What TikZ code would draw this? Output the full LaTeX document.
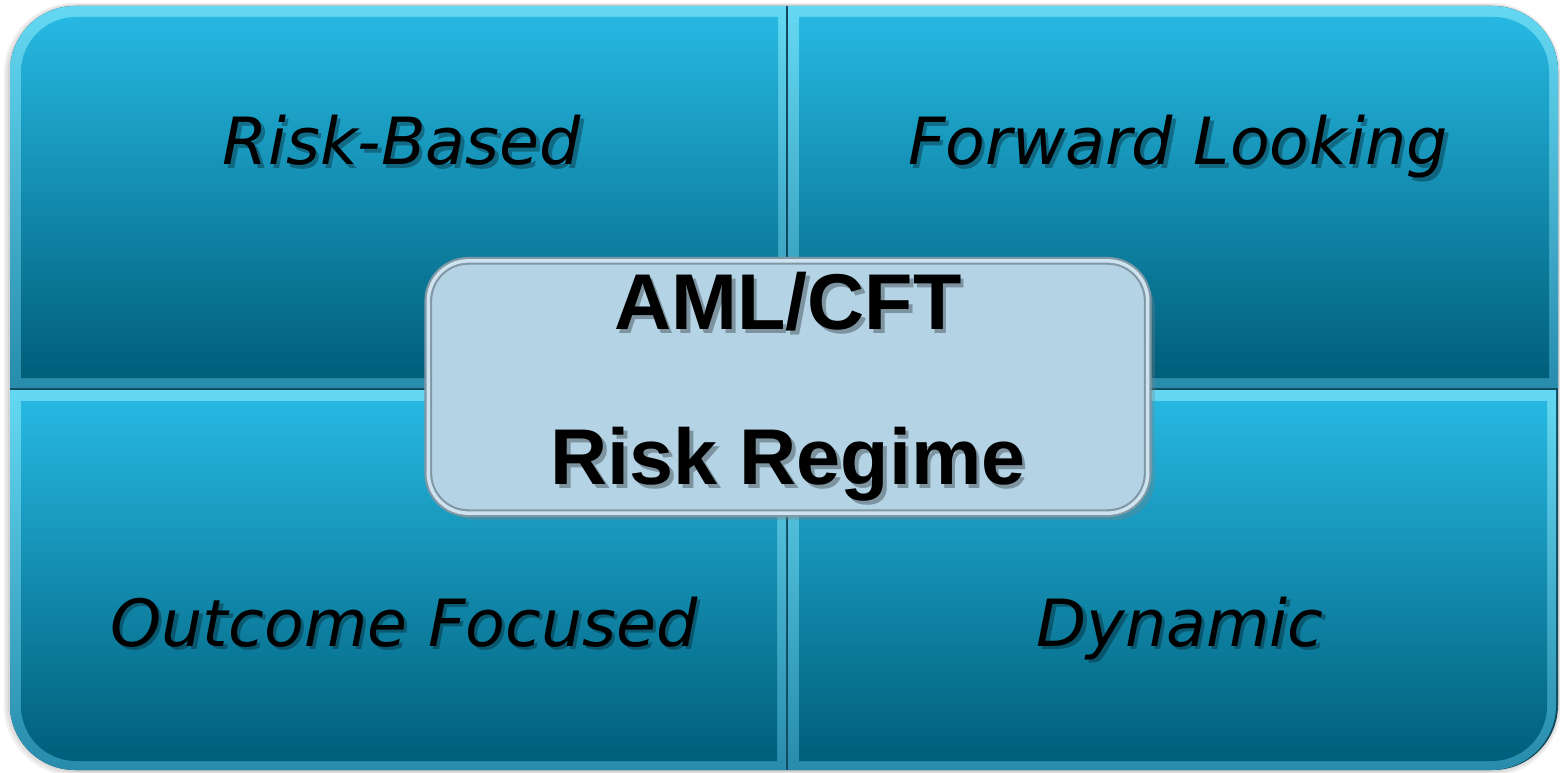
\documentclass[tikz,border=0pt]{standalone}
\usepackage{fontspec}
\setmainfont{DejaVu Sans}
\newfontfamily\quadfont{DejaVu Sans}
\newfontfamily\regimefont{Liberation Sans}
\usetikzlibrary{shadows}

\definecolor{quadtop}{RGB}{38,184,226}
\definecolor{quadbot}{RGB}{0,94,122}
\definecolor{rimtop}{RGB}{100,216,242}
\definecolor{rimbot}{RGB}{40,140,172}
\definecolor{quadgap}{RGB}{16,72,92}
\definecolor{regimefill}{RGB}{180,212,230}
\definecolor{regimeline}{RGB}{128,152,166}

\begin{document}
\begin{tikzpicture}[x=0.01cm, y=0.01cm,
  quadrim/.style={top color=rimtop, bottom color=rimbot},
  quadbody/.style={top color=quadtop, bottom color=quadbot},
  quadlabel/.style={font=\quadfont\itshape\fontsize{18.5}{22}\selectfont, text=black, anchor=base, inner sep=0pt},
  quadshade/.style={quadlabel, opacity=.3, xshift=1pt, yshift=-1pt},
  regimetext/.style={align=center, font=\regimefont\bfseries\fontsize{22.5}{44}\selectfont, text=black},
  regimeshade/.style={regimetext, opacity=.3, xshift=1pt, yshift=-1pt},
  regimebox/.style={regimetext, rectangle, rounded corners=0.4cm, minimum width=7.19cm, minimum height=2.52cm,
    fill=regimefill, draw=regimeline, line width=0.6pt, double=white!35!regimefill, double distance=1pt,
    drop shadow={shadow xshift=2pt, shadow yshift=-2pt, opacity=.3}}]
\useasboundingbox (0,0) rectangle (1560,772);

\foreach \s in {2,4,6}
  \fill[black, opacity=.06, rounded corners=0.7cm] (10-\s,2-\s) rectangle (1558+\s/2,766+\s/2);
\fill[quadgap, rounded corners=0.65cm] (10,2) rectangle (1558,766);

\begin{scope}
  \shade[quadrim] (10,384) [rounded corners=0.65cm] -- (10,766) [sharp corners] -- (786,766) -- (786,384) -- cycle;
  \shade[quadbody] (21,394) [rounded corners=0.55cm] -- (21,755) [sharp corners] -- (778,755) -- (778,394) -- cycle;
\end{scope}
\begin{scope}
  \shade[quadrim] (788,384) -- (788,766) [rounded corners=0.65cm] -- (1558,766) [sharp corners] -- (1558,384) -- cycle;
  \shade[quadbody] (799,394) -- (799,755) [rounded corners=0.55cm] -- (1549,755) [sharp corners] -- (1549,394) -- cycle;
\end{scope}
\begin{scope}
  \shade[quadrim] (786,382) -- (10,382) [rounded corners=0.65cm] -- (10,2) [sharp corners] -- (786,2) -- cycle;
  \shade[quadbody] (777,371) -- (21,371) [rounded corners=0.55cm] -- (21,11) [sharp corners] -- (777,11) -- cycle;
\end{scope}
\begin{scope}
  \shade[quadrim] (788,382) -- (788,2) [rounded corners=0.65cm] -- (1556,2) [sharp corners] -- (1556,382) -- cycle;
  \shade[quadbody] (799,371) -- (799,11) [rounded corners=0.55cm] -- (1547,11) [sharp corners] -- (1547,371) -- cycle;
\end{scope}

\node[quadshade] (risk-sh) at (402,607) {Risk-Based};
\node[quadlabel] (risk) at (402,607) {Risk-Based};
\node[quadshade] (forward-sh) at (1178,607) {Forward Looking};
\node[quadlabel] (forward) at (1178,607) {Forward Looking};
\node[quadshade] (outcome-sh) at (404,126) {Outcome Focused};
\node[quadlabel] (outcome) at (404,126) {Outcome Focused};
\node[quadshade] (dynamic-sh) at (1180,126) {Dynamic};
\node[quadlabel] (dynamic) at (1180,126) {Dynamic};

\node[regimebox] (regime) at (788,385) {\phantom{AML/CFT}\\\phantom{Risk Regime}};
\node[regimeshade] (regime-sh) at (regime.center) {AML/CFT\\Risk Regime};
\node[regimetext] (regime-txt) at (regime.center) {AML/CFT\\Risk Regime};
\end{tikzpicture}
\end{document}
